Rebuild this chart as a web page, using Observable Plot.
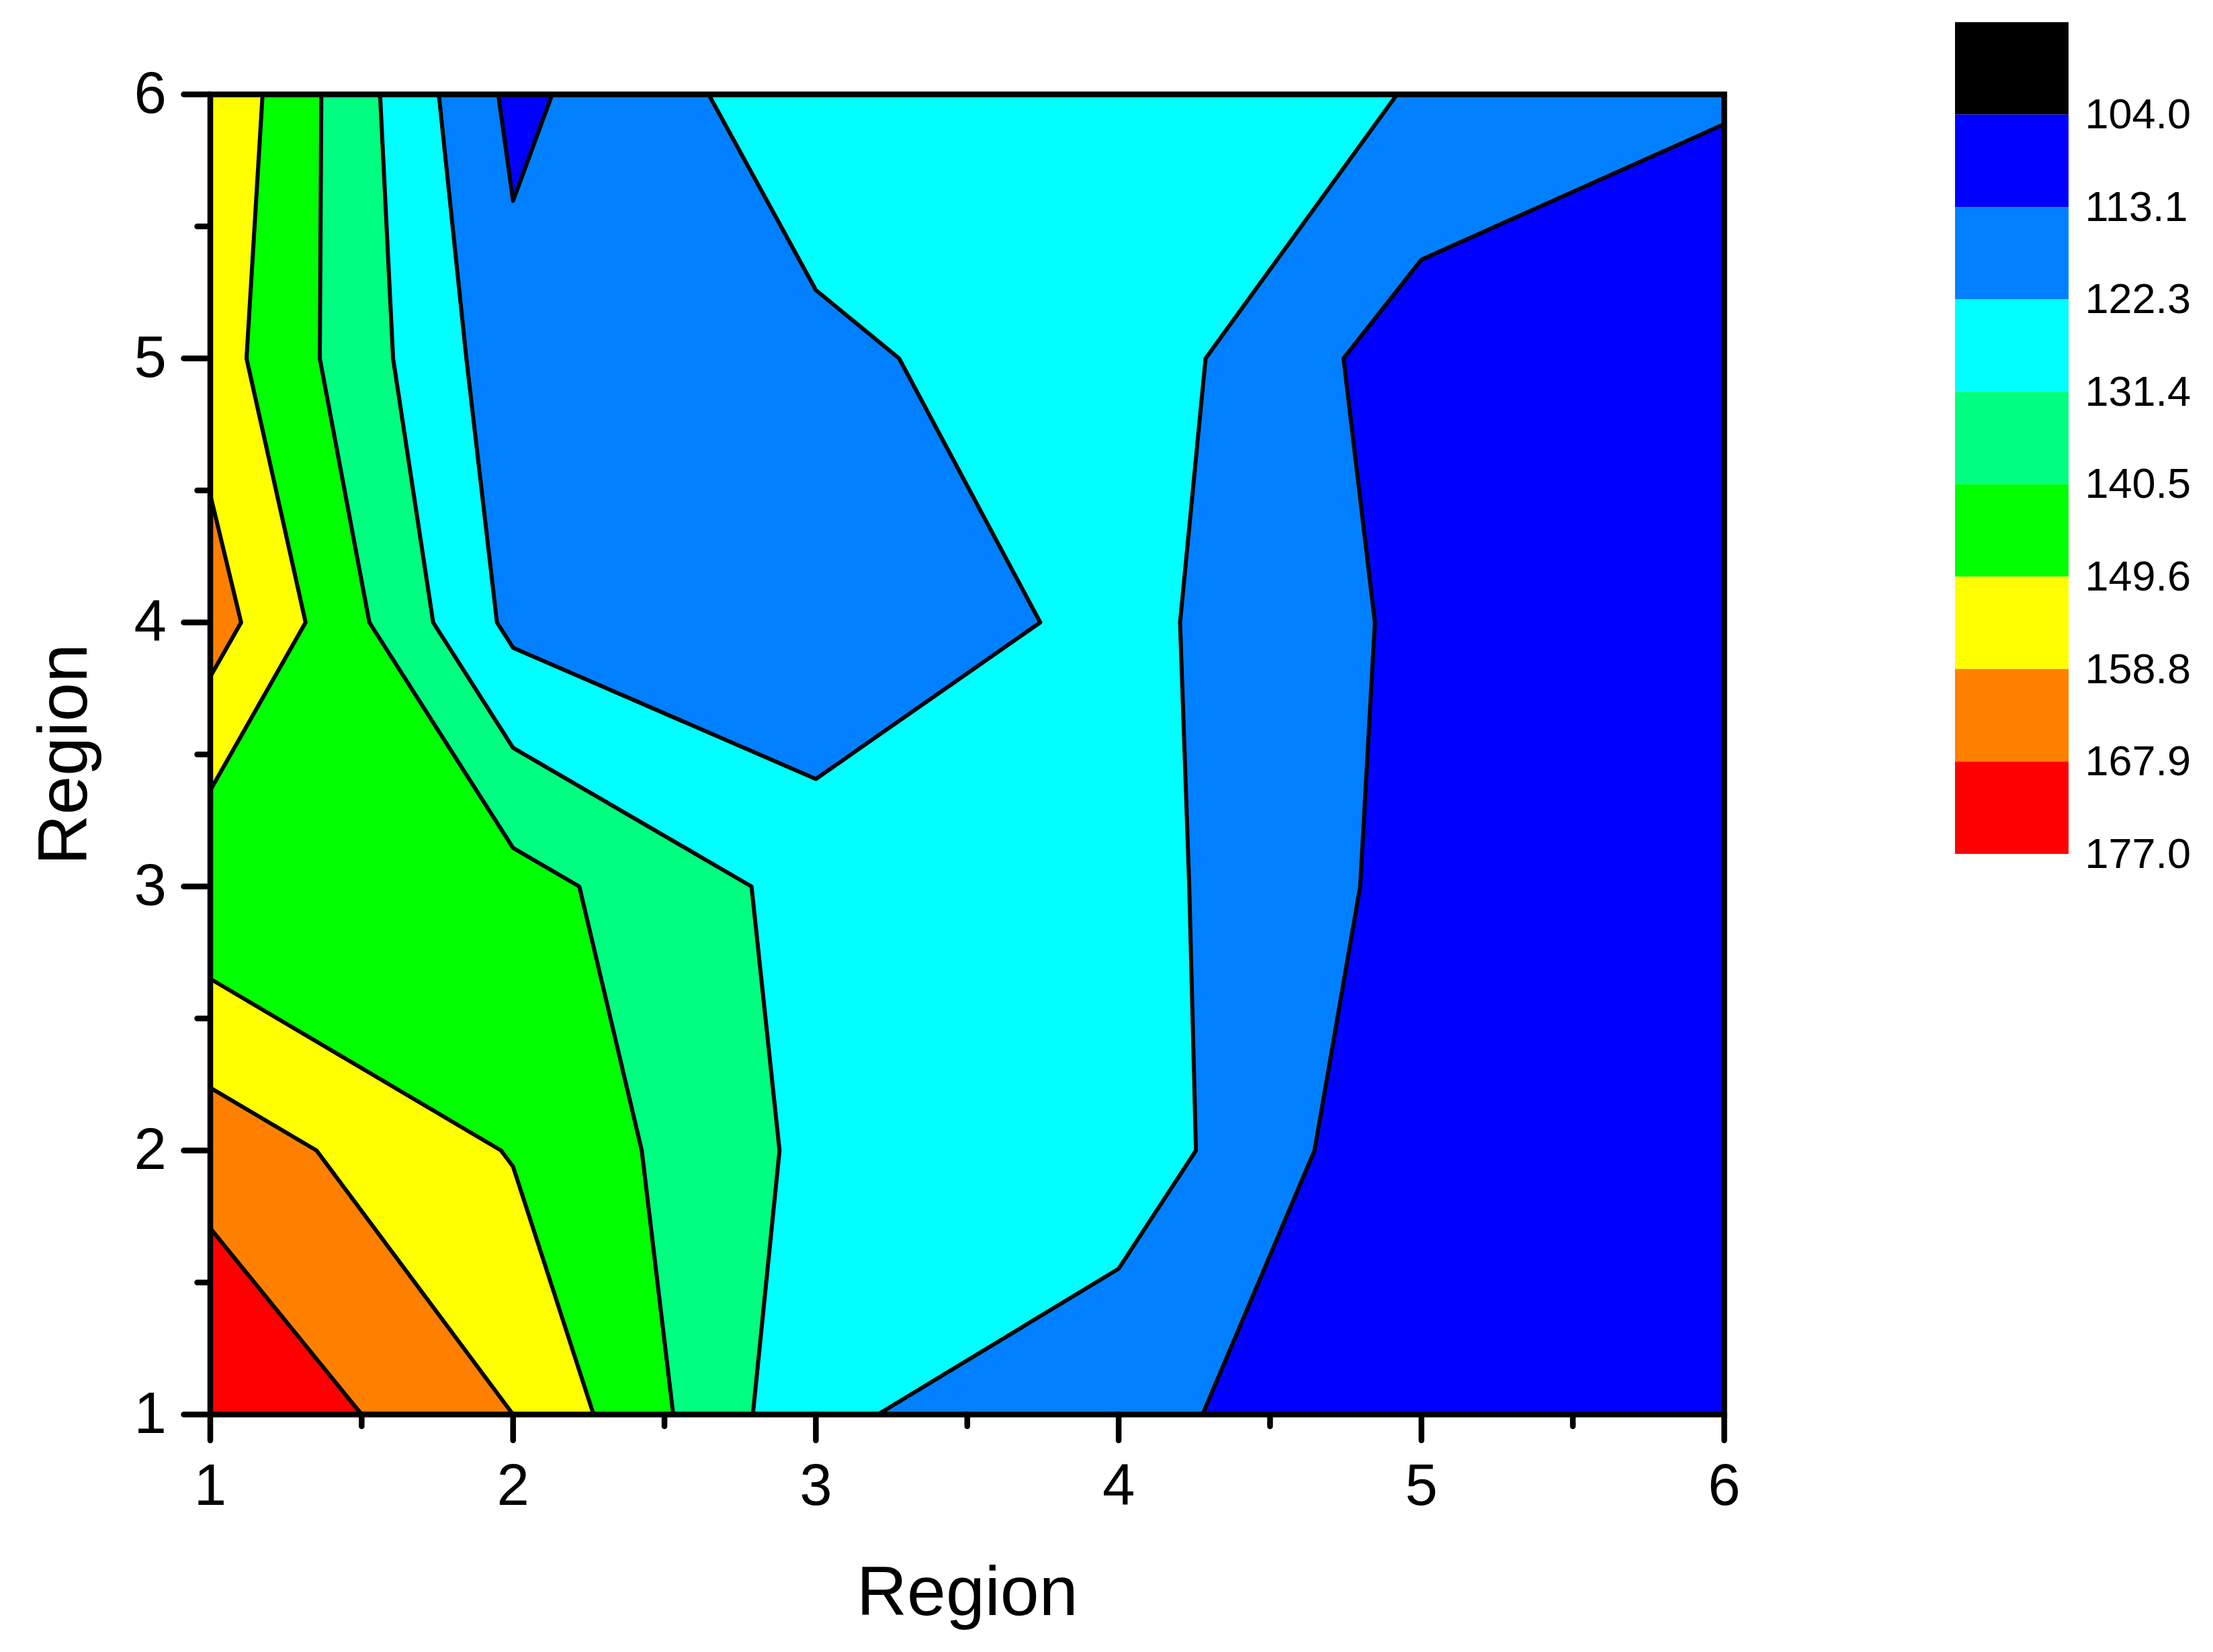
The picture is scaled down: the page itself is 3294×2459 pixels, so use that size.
<!DOCTYPE html>
<html><head><meta charset="utf-8">
<script src="https://cdn.jsdelivr.net/npm/d3@7"></script>
<script src="https://cdn.jsdelivr.net/npm/@observablehq/plot@0.6"></script>
<style>
html,body{margin:0;padding:0;background:#fff;}
#wrap{position:relative;width:3294px;height:2459px;background:#fff;}
#wrap svg{position:absolute;left:0;top:0;}
</style></head><body><div id="wrap"></div>
<script>
// Grid values z(x, y) for x = 1..6, one array per row y = 1..6
const zRowY1 = [177.0, 158.8, 124.2, 114.9, 108.4, 107.0];
const zRowY2 = [164.1, 149.0, 129.0, 128.3, 104.8, 104.0];
const zRowY3 = [141.8, 144.0, 128.0, 126.1, 109.8, 108.0];
const zRowY4 = [163.2, 120.0, 114.0, 125.2, 110.9, 109.0];
const zRowY5 = [154.1, 116.5, 120.1, 128.1, 107.9, 106.0];
const zRowY6 = [157.7, 110.8, 128.6, 128.0, 121.8, 114.0];

const levels = [104.0, 113.1, 122.3, 131.4, 140.5, 149.6, 158.8, 167.9, 177.0];
const levelLabels = ["104.0", "113.1", "122.3", "131.4", "140.5", "149.6", "158.8", "167.9", "177.0"];
const levelColors = ["#000000", "#0000FF", "#0080FF", "#00FFFF", "#00FF80", "#00FF00", "#FFFF00", "#FF8000", "#FF0000"];

const majorTicks = [1, 2, 3, 4, 5, 6];
const minorTicks = [1.5, 2.5, 3.5, 4.5, 5.5];
const axisTitleX = "Region";
const axisTitleY = "Region";

const W = 3294, H = 2459;
const font = '"Liberation Sans", Arial, sans-serif';
const values = [...zRowY1, ...zRowY2, ...zRowY3, ...zRowY4, ...zRowY5, ...zRowY6];

const main = Plot.plot({
  width: W, height: H,
  marginLeft: 312.5, marginRight: 728, marginTop: 140, marginBottom: 354,
  style: {fontFamily: font, background: "transparent", color: "black"},
  x: {domain: [1, 6], label: null},
  y: {domain: [1, 6], label: null},
  color: {type: "threshold", domain: levels, range: [...levelColors, "#FF0000"]},
  marks: [
    Plot.contour(values, {
      width: 6, height: 6, x1: 0.5, x2: 6.5, y1: 0.5, y2: 6.5,
      thresholds: levels.slice(0, 8),
      fill: Plot.identity, stroke: "black", strokeWidth: 6, strokeLinejoin: "round", clip: true
    }),
    Plot.frame({stroke: "black", strokeWidth: 8.5}),
    Plot.axisX({ticks: majorTicks, tickSize: 39, tickPadding: 34, fontSize: 87, strokeWidth: 8.5, strokeLinecap: "round", label: null, tickFormat: d => String(d)}),
    Plot.axisX({ticks: minorTicks, tickSize: 18, strokeWidth: 8.5, strokeLinecap: "round", label: null, tickFormat: () => ""}),
    Plot.axisY({ticks: majorTicks, tickSize: 39, tickPadding: 26, fontSize: 87, strokeWidth: 8.5, strokeLinecap: "round", label: null, tickFormat: d => String(d)}),
    Plot.axisY({ticks: minorTicks, tickSize: 19, strokeWidth: 8.5, strokeLinecap: "round", label: null, tickFormat: () => ""}),
    Plot.text([axisTitleX], {text: d => d, frameAnchor: "bottom", textAnchor: "middle", lineAnchor: "bottom", dy: 298, fontSize: 104}),
    Plot.text([axisTitleY], {text: d => d, frameAnchor: "left", textAnchor: "middle", rotate: -90, lineAnchor: "bottom", dx: -184.5, fontSize: 104})
  ]
});

const legend = Plot.plot({
  width: W, height: H,
  marginLeft: 2910, marginRight: 215, marginTop: 33, marginBottom: 1188,
  style: {fontFamily: font, background: "transparent", color: "black"},
  x: {domain: [0, 1], axis: null},
  y: {domain: [0, 9], reverse: true, axis: null},
  color: {type: "identity"},
  marks: [
    Plot.rect(levelColors, {x1: 0, x2: 1, y1: (d, i) => i, y2: (d, i) => i + 1, fill: d => d}),
    Plot.text(levelLabels, {x: 1, y: (d, i) => i + 1, text: d => d, textAnchor: "start", lineAnchor: "middle", dx: 24, fontSize: 63})
  ]
});

const wrap = document.getElementById("wrap");
wrap.appendChild(main);
wrap.appendChild(legend);
</script>
</body></html>
